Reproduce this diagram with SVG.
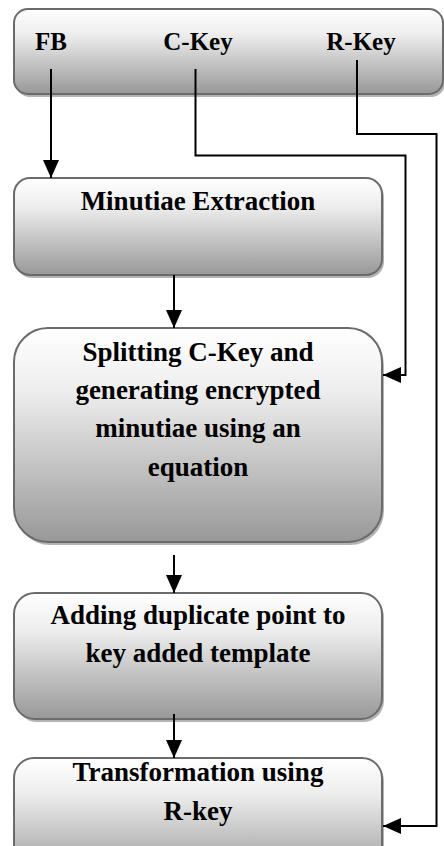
<svg xmlns="http://www.w3.org/2000/svg" width="444" height="846" viewBox="0 0 444 846">
  <style>
    .box { fill: url(#boxFill); stroke: #6b6b6b; stroke-width: 2; }
    .shadow { fill: #b3b3b3; }
    .label { font-family: "Liberation Serif", "Times New Roman", serif; font-weight: bold; font-size: 27px; fill: #000; text-anchor: middle; }
    .top { font-size: 25px; }
    .wire { fill: none; stroke: #000; stroke-width: 2; }
  </style>
  <defs>
    <linearGradient id="boxFill" x1="0" y1="0" x2="0" y2="1">
      <stop offset="0" stop-color="#ffffff"/>
      <stop offset="0.3" stop-color="#ededed"/>
      <stop offset="1" stop-color="#989898"/>
    </linearGradient>
    <marker id="head" markerUnits="userSpaceOnUse" markerWidth="18" markerHeight="16" refX="18" refY="8" orient="auto">
      <path d="M0,0 L18,8 L0,16 Z" fill="#000"/>
    </marker>
  </defs>

  <rect width="444" height="846" fill="#fff"/>

  <!-- inputs bar -->
  <g id="inputs">
    <rect class="shadow" x="16" y="12" width="429" height="85" rx="14"/>
    <rect class="box" x="14" y="9" width="429" height="85" rx="14"/>
    <text class="label top" x="51" y="50">FB</text>
    <text class="label top" x="198" y="50">C-Key</text>
    <text class="label top" x="361" y="50">R-Key</text>
  </g>

  <g id="minutiae-extraction">
    <rect class="shadow" x="16" y="181" width="368" height="97" rx="16"/>
    <rect class="box" x="14" y="178" width="368" height="97" rx="16"/>
    <text class="label" x="198" y="210">Minutiae Extraction</text>
  </g>

  <g id="splitting">
    <rect class="shadow" x="16" y="331" width="368" height="214" rx="34"/>
    <rect class="box" x="14" y="328" width="368" height="214" rx="34"/>
    <text class="label" x="198" y="361">Splitting C-Key and</text>
    <text class="label" x="198" y="399">generating encrypted</text>
    <text class="label" x="198" y="437">minutiae using an</text>
    <text class="label" x="198" y="476">equation</text>
  </g>

  <g id="adding-duplicate">
    <rect class="shadow" x="16" y="596" width="368" height="126" rx="21"/>
    <rect class="box" x="14" y="593" width="368" height="126" rx="21"/>
    <text class="label" x="198" y="624">Adding duplicate point to</text>
    <text class="label" x="198" y="662">key added template</text>
  </g>

  <g id="transformation">
    <rect class="shadow" x="16" y="761" width="368" height="120" rx="20"/>
    <rect class="box" x="14" y="758" width="368" height="120" rx="20"/>
    <text class="label" x="198" y="781">Transformation using</text>
    <text class="label" x="198" y="820">R-key</text>
  </g>

  <g id="connectors">
    <path class="wire" d="M51,69 V178" marker-end="url(#head)"/>
    <path class="wire" d="M174,275 V328" marker-end="url(#head)"/>
    <path class="wire" d="M174,555 V593" marker-end="url(#head)"/>
    <path class="wire" d="M174,714 V758" marker-end="url(#head)"/>
    <path class="wire" d="M195.5,69 V155.5 H405.5 V375 H383" marker-end="url(#head)"/>
    <path class="wire" d="M357,60 V134 H436.5 V826 H383" marker-end="url(#head)"/>
  </g>
</svg>
